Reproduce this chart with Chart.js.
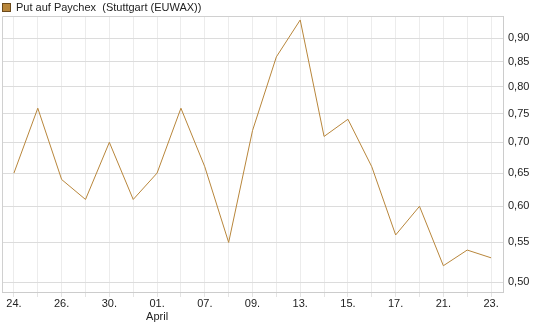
<!DOCTYPE html>
<html>
<head>
<meta charset="utf-8">
<script src="https://cdn.jsdelivr.net/npm/chart.js@4/dist/chart.umd.min.js"></script>
<style>
  html, body { margin: 0; padding: 0; background: #fff; }
  #wrap { width: 545px; height: 327px; position: relative; }
</style>
</head>
<body>
<div id="wrap"><canvas id="chart"></canvas></div>
<script>
// Tagesdaten (Mär/Apr)
const days = ['24.', '25.', '26.', '27.', '30.', '31.', '01.', '02.', '07.', '08.', '09.',
              '10.', '13.', '14.', '15.', '16.', '17.', '20.', '21.', '22.', '23.'];
const prices = [0.65, 0.76, 0.64, 0.61, 0.70, 0.61, 0.65, 0.76, 0.66, 0.55, 0.72,
                0.86, 0.94, 0.71, 0.74, 0.66, 0.56, 0.60, 0.52, 0.54, 0.53];
const yTicks = [0.50, 0.55, 0.60, 0.65, 0.70, 0.75, 0.80, 0.85, 0.90];
const seriesName = 'Put auf Paychex  (Stuttgart (EUWAX))';
const monthAt = { 6: 'April' };

const LINE = '#b8863b';
const FONT = 'Liberation Sans, Arial, sans-serif';

// Rahmen + Legende oben links
const frame = {
    id: 'frame',
    beforeDatasetsDraw(chart) {
        const { ctx, chartArea: a } = chart;
        ctx.save();
        ctx.strokeStyle = '#d0d0d0';
        ctx.lineWidth = 1;
        ctx.beginPath();
        ctx.moveTo(a.left + 0.5, a.bottom);
        ctx.lineTo(a.left + 0.5, a.top + 0.5);
        ctx.lineTo(a.right, a.top + 0.5);
        ctx.stroke();
        ctx.restore();
    },
    afterDraw(chart) {
        const ctx = chart.ctx;
        ctx.save();
        ctx.fillStyle = LINE;
        ctx.fillRect(2, 3, 9, 9);
        ctx.strokeStyle = '#6b4a1c';
        ctx.strokeRect(2.5, 3.5, 8, 8);
        ctx.fillStyle = '#222';
        ctx.font = '11px ' + FONT;
        ctx.textBaseline = 'middle';
        ctx.fillText(seriesName, 16, 8);
        ctx.restore();
    }
};

new Chart(document.getElementById('chart'), {
    type: 'line',
    data: {
        labels: days,
        datasets: [{
            label: seriesName,
            data: prices,
            borderColor: LINE,
            borderWidth: 1,
            pointRadius: 0,
            tension: 0,
            fill: false
        }]
    },
    options: {
        responsive: true,
        maintainAspectRatio: false,
        animation: false,
        layout: { padding: { top: 16, left: 2, right: 0, bottom: 0 } },
        plugins: { legend: { display: false }, tooltip: { enabled: false } },
        scales: {
            x: {
                offset: true,
                grid: { offset: false, color: '#ececec', tickLength: 5, tickColor: '#e4e4e4' },
                border: { color: '#cccccc' },
                afterFit: s => { s.height = 35; },
                ticks: {
                    autoSkip: false, maxRotation: 0, padding: 0,
                    color: '#222', font: { family: FONT, size: 11 },
                    callback: (v, i) => {
                        if (i % 2) return '';
                        return monthAt[i] ? [days[i], monthAt[i]] : days[i];
                    }
                }
            },
            y: {
                type: 'logarithmic',
                position: 'right',
                min: 0.4881,
                max: 0.949,
                afterBuildTicks: s => { s.ticks = yTicks.map(v => ({ value: v, major: false })); },
                afterFit: s => { s.width = 42; },
                grid: { color: '#dcdcdc', drawTicks: false },
                border: { color: '#cccccc' },
                ticks: {
                    padding: 5, color: '#222', font: { family: FONT, size: 11 },
                    callback: v => Number(v).toFixed(2).replace('.', ',')
                }
            }
        }
    },
    plugins: [frame]
});
</script>
</body>
</html>
